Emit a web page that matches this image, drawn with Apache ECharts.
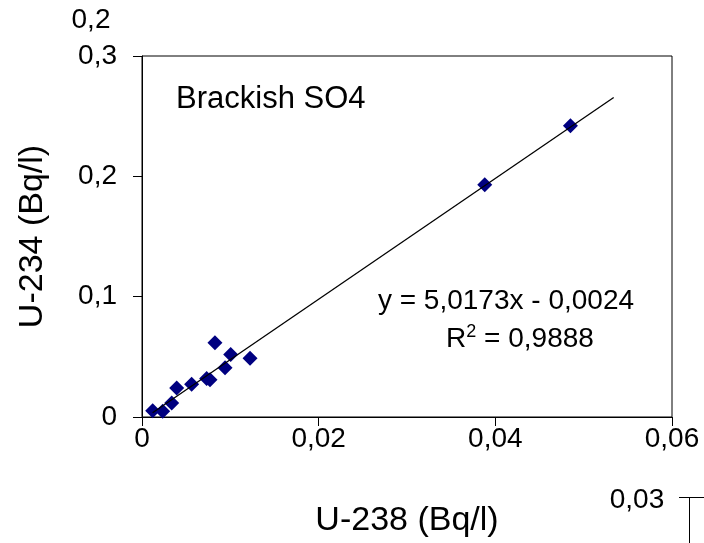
<!DOCTYPE html>
<html><head><meta charset="utf-8">
<script src="https://cdn.jsdelivr.net/npm/echarts@6/dist/echarts.min.js"></script>
<style>html,body{margin:0;padding:0;background:#fff}#c{width:704px;height:543px}</style>
</head><body><div id="c"></div><script>
// Measured points (U-238 vs U-234, Bq/l)
const u238 = [0.00121, 0.00234, 0.00336, 0.00393, 0.00562, 0.00732, 0.0077, 0.00826, 0.0094, 0.01004, 0.01223, 0.0388, 0.0485];
const u234 = [0.0052, 0.0047, 0.0116, 0.024, 0.0273, 0.032, 0.031, 0.0617, 0.041, 0.052, 0.0488, 0.193, 0.242];
// Trend line end points
const trendX = [0.0012, 0.0534];
const trendY = [0.0036, 0.2655];
const titleText = 'Brackish SO4';
const eqText = 'y = 5,0173x - 0,0024';
const r2Text = '0,9888';

const F = 'Liberation Sans, Arial, sans-serif';
const chart = echarts.init(document.getElementById('c'), null, {renderer: 'canvas'});
const pts = u238.map((x, i) => [x, u234[i]]);
const trend = trendX.map((x, i) => [x, trendY[i]]);
const fmt = d => v => v === 0 ? '0' : v.toFixed(d).replace('.', ',');

chart.setOption({
  backgroundColor: '#fff',
  animation: false,
  grid: {left: 142, top: 56, right: 32, bottom: 124, show: true, borderColor: '#000', borderWidth: 1, backgroundColor: 'transparent'},
  xAxis: {
    type: 'value', min: 0, max: 0.06, interval: 0.02,
    name: 'U-238 (Bq/l)', nameLocation: 'middle', nameGap: 87,
    nameTextStyle: {fontFamily: F, fontSize: 34, color: '#000'},
    axisLine: {show: true, lineStyle: {color: '#000', width: 1}},
    axisTick: {show: true, inside: false, length: 9, lineStyle: {color: '#000'}},
    axisLabel: {fontFamily: F, fontSize: 28, color: '#000', margin: 8, formatter: fmt(2)},
    splitLine: {show: false}
  },
  yAxis: {
    type: 'value', min: 0, max: 0.3, interval: 0.1,
    name: 'U-234 (Bq/l)', nameLocation: 'middle', nameGap: 92, nameRotate: 90,
    nameTextStyle: {fontFamily: F, fontSize: 34, color: '#000'},
    axisLine: {show: true, lineStyle: {color: '#000', width: 1}},
    axisTick: {show: true, inside: false, length: 9, lineStyle: {color: '#000'}},
    axisLabel: {fontFamily: F, fontSize: 28, color: '#000', margin: 25, formatter: fmt(1)},
    splitLine: {show: false}
  },
  series: [
    {type: 'line', data: trend, showSymbol: false, symbol: 'none', lineStyle: {color: '#000', width: 1.3}, z: 3, silent: true},
    {type: 'scatter', data: pts, symbol: 'diamond', symbolSize: [15, 15], itemStyle: {color: '#000080', opacity: 1}, z: 2}
  ],
  graphic: [
    {type: 'text', x: 176, y: 99, style: {text: titleText, font: '31px ' + F, fill: '#000', verticalAlign: 'middle'}},
    {type: 'text', x: 506, y: 301, style: {text: eqText, font: '28px ' + F, fill: '#000', align: 'center', verticalAlign: 'middle'}},
    {type: 'text', x: 520, y: 339, style: {text: 'R{sup|2} = ' + r2Text, font: '28px ' + F, fill: '#000', align: 'center', verticalAlign: 'middle',
      rich: {sup: {fontFamily: F, fontSize: 18, fill: '#000', verticalAlign: 'top', padding: [0, 0, 14, 0]}}}},
    {type: 'text', x: 91, y: 20, style: {text: '0,2', font: '28px ' + F, fill: '#000', align: 'center', verticalAlign: 'middle'}},
    {type: 'text', x: 637, y: 500, style: {text: '0,03', font: '28px ' + F, fill: '#000', align: 'center', verticalAlign: 'middle'}},
    {type: 'line', shape: {x1: 679, y1: 497.5, x2: 704, y2: 497.5}, style: {stroke: '#000', lineWidth: 1}},
    {type: 'line', shape: {x1: 689.5, y1: 497, x2: 689.5, y2: 543}, style: {stroke: '#000', lineWidth: 1}}
  ]
});
</script></body></html>
